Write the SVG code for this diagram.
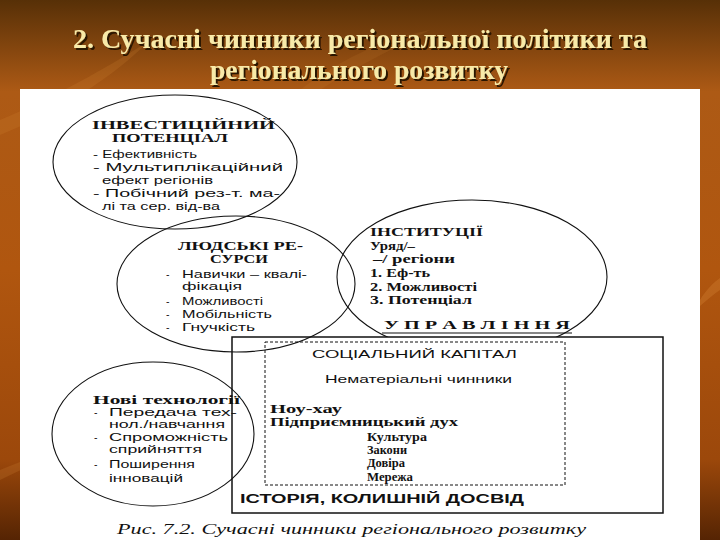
<svg xmlns="http://www.w3.org/2000/svg" width="720" height="540" viewBox="0 0 720 540">
<defs>
  <linearGradient id="bg" x1="0" y1="0" x2="0" y2="1">
    <stop offset="0" stop-color="#573007"/>
    <stop offset="0.07" stop-color="#7a410d"/>
    <stop offset="0.17" stop-color="#ad5a15"/>
    <stop offset="0.5" stop-color="#b0560f"/>
    <stop offset="0.85" stop-color="#9c480b"/>
    <stop offset="1" stop-color="#552403"/>
  </linearGradient>
  <clipPath id="clipTop"><rect x="0" y="0" width="720" height="337"/></clipPath>
  <filter id="tsh" x="-5%" y="-30%" width="110%" height="160%">
    <feDropShadow dx="2" dy="2" stdDeviation="0.4" flood-color="#2a1300" flood-opacity="1"/>
  </filter>
  <style>
    .title{font-family:"Liberation Serif","DejaVu Serif",serif;font-weight:bold;font-size:28px;fill:#f8eaa8;filter:url(#tsh);}
    .ell{fill:none;stroke:#111;stroke-width:1.1;}
    .hd{font-family:"Liberation Serif","DejaVu Serif",serif;font-weight:bold;font-size:11.5px;fill:#111;}
    .bs{font-family:"Liberation Serif","DejaVu Serif",serif;font-weight:bold;font-size:11.5px;fill:#111;}
    .sn{font-family:"Liberation Sans","DejaVu Sans",sans-serif;font-size:10.5px;fill:#111;}
    .sb{font-family:"Liberation Sans","DejaVu Sans",sans-serif;font-weight:bold;font-size:13.5px;fill:#111;}
    .cap{font-family:"Liberation Serif","DejaVu Serif",serif;font-style:italic;font-size:15px;fill:#111;}
  </style>
</defs>

<!-- background -->
<rect x="0" y="0" width="720" height="540" fill="url(#bg)"/>
<path d="M0,120 C60,95 120,60 150,40 C110,80 60,110 0,135 Z" fill="#d98a3a" opacity="0.18"/>
<path d="M0,470 C50,450 90,435 130,430 C80,445 40,460 0,480 Z" fill="#d98a3a" opacity="0.2"/>
<path d="M700,300 C706,290 714,282 720,278 L720,290 C714,294 707,300 700,306 Z" fill="#d98a3a" opacity="0.3"/>
<path d="M300,90 C340,60 380,40 430,30 C390,50 350,70 320,90 Z" fill="#d98a3a" opacity="0.12"/>

<!-- title -->
<g id="title">
  <text class="title" x="73" y="48" textLength="574" lengthAdjust="spacingAndGlyphs">2. Сучасні чинники  регіональної політики та</text>
  <text class="title" x="210" y="79" textLength="298" lengthAdjust="spacingAndGlyphs">регіонального розвитку</text>
</g>

<!-- white scanned panel -->
<rect x="20" y="89" width="680" height="451" fill="#ffffff"/>

<!-- investment potential -->
<g id="invest">
  <ellipse class="ell" cx="175" cy="162" rx="122" ry="67"/>
  <text class="hd" x="92" y="129" textLength="183" lengthAdjust="spacingAndGlyphs">ІНВЕСТИЦІЙНИЙ</text>
  <text class="hd" x="112" y="142" textLength="116" lengthAdjust="spacingAndGlyphs">ПОТЕНЦІАЛ</text>
  <text class="sn" x="93" y="158" font-size="11.3" textLength="104" lengthAdjust="spacingAndGlyphs">- Ефективність</text>
  <text class="sn" x="93" y="171" font-size="11.3" textLength="190" lengthAdjust="spacingAndGlyphs">- Мультиплікаційний</text>
  <text class="sn" x="102" y="184" font-size="11.3" textLength="111" lengthAdjust="spacingAndGlyphs">ефект регіонів</text>
  <text class="sn" x="93" y="197" font-size="11.3" textLength="187" lengthAdjust="spacingAndGlyphs">- Побічний рез-т. ма-</text>
  <text class="sn" x="102" y="210" font-size="11.3" textLength="118" lengthAdjust="spacingAndGlyphs">лі та сер. від-ва</text>
</g>

<!-- human resources -->
<g id="human">
  <ellipse class="ell" cx="236" cy="284" rx="119" ry="68"/>
  <text class="hd" x="178" y="250" textLength="125" lengthAdjust="spacingAndGlyphs">ЛЮДСЬКІ РЕ-</text>
  <text class="hd" x="210" y="263" textLength="58" lengthAdjust="spacingAndGlyphs">СУРСИ</text>
  <text class="sn" x="166" y="278">-</text>
  <text class="sn" x="182" y="278" textLength="125" lengthAdjust="spacingAndGlyphs">Навички – квалі-</text>
  <text class="sn" x="182" y="290" textLength="60" lengthAdjust="spacingAndGlyphs">фікація</text>
  <text class="sn" x="166" y="305">-</text>
  <text class="sn" x="182" y="305" textLength="81" lengthAdjust="spacingAndGlyphs">Можливості</text>
  <text class="sn" x="166" y="318">-</text>
  <text class="sn" x="182" y="318" textLength="90" lengthAdjust="spacingAndGlyphs">Мобільність</text>
  <text class="sn" x="166" y="331">-</text>
  <text class="sn" x="182" y="331" textLength="73" lengthAdjust="spacingAndGlyphs">Гнучкість</text>
</g>

<!-- institutions -->
<g id="institutions">
  <ellipse class="ell" cx="472" cy="277" rx="135" ry="77" clip-path="url(#clipTop)"/>
  <text class="bs" x="370" y="236" textLength="113" lengthAdjust="spacingAndGlyphs">ІНСТИТУЦІЇ</text>
  <text class="bs" x="370" y="250" textLength="45" lengthAdjust="spacingAndGlyphs">Уряд/–</text>
  <text class="bs" x="373" y="263" textLength="82" lengthAdjust="spacingAndGlyphs">–/ регіони</text>
  <text class="bs" x="370" y="277" textLength="60" lengthAdjust="spacingAndGlyphs">1. Еф-ть</text>
  <text class="bs" x="370" y="291" textLength="107" lengthAdjust="spacingAndGlyphs">2. Можливості</text>
  <text class="bs" x="370" y="304" textLength="102" lengthAdjust="spacingAndGlyphs">3. Потенціал</text>
  <text class="bs" x="384" y="329" textLength="186" lengthAdjust="spacingAndGlyphs">У П Р А В Л І Н Н Я</text>
  <line x1="382" y1="333" x2="572" y2="333" stroke="#111" stroke-width="1.2"/>
</g>

<!-- new technologies -->
<g id="technologies">
  <ellipse class="ell" cx="153" cy="434" rx="101" ry="72"/>
  <text class="bs" x="93" y="404" textLength="147" lengthAdjust="spacingAndGlyphs">Нові технології</text>
  <text class="sn" x="94" y="416">-</text>
  <text class="sn" x="109" y="416" textLength="128" lengthAdjust="spacingAndGlyphs">Передача тех-</text>
  <text class="sn" x="109" y="428" textLength="116" lengthAdjust="spacingAndGlyphs">нол./навчання</text>
  <text class="sn" x="94" y="441">-</text>
  <text class="sn" x="109" y="441" textLength="119" lengthAdjust="spacingAndGlyphs">Спроможність</text>
  <text class="sn" x="109" y="453" textLength="93" lengthAdjust="spacingAndGlyphs">сприйняття</text>
  <text class="sn" x="94" y="468">-</text>
  <text class="sn" x="109" y="468" textLength="86" lengthAdjust="spacingAndGlyphs">Поширення</text>
  <text class="sn" x="109" y="482" textLength="74" lengthAdjust="spacingAndGlyphs">інновацій</text>
</g>

<!-- social capital box -->
<g id="social-capital">
  <rect x="232" y="337" width="431" height="176" fill="none" stroke="#111" stroke-width="1.5"/>
  <rect x="265" y="342" width="300" height="143" fill="none" stroke="#111" stroke-width="1" stroke-dasharray="3 2"/>
  <text class="sn" x="312" y="358" font-size="12.5" textLength="205" lengthAdjust="spacingAndGlyphs">СОЦІАЛЬНИЙ КАПІТАЛ</text>
  <text class="sn" x="325" y="383" font-size="11.5" textLength="187" lengthAdjust="spacingAndGlyphs">Нематеріальні чинники</text>
  <text class="bs" x="270" y="413" textLength="72" lengthAdjust="spacingAndGlyphs">Ноу-хау</text>
  <text class="bs" x="270" y="426" textLength="188" lengthAdjust="spacingAndGlyphs">Підприємницький дух</text>
  <text class="bs" x="367" y="441" textLength="60" lengthAdjust="spacingAndGlyphs">Культура</text>
  <text class="bs" x="367" y="454" textLength="40" lengthAdjust="spacingAndGlyphs">Закони</text>
  <text class="bs" x="367" y="467" textLength="38" lengthAdjust="spacingAndGlyphs">Довіра</text>
  <text class="bs" x="367" y="481" textLength="46" lengthAdjust="spacingAndGlyphs">Мережа</text>
  <text class="sb" x="240" y="503" textLength="284" lengthAdjust="spacingAndGlyphs">ІСТОРІЯ, КОЛИШНІЙ ДОСВІД</text>
</g>

<g id="connectors"></g>

<!-- caption -->
<g id="caption">
  <text class="cap" x="117" y="534" textLength="469" lengthAdjust="spacingAndGlyphs">Рис. 7.2. Сучасні чинники регіонального розвитку</text>
</g>
</svg>
